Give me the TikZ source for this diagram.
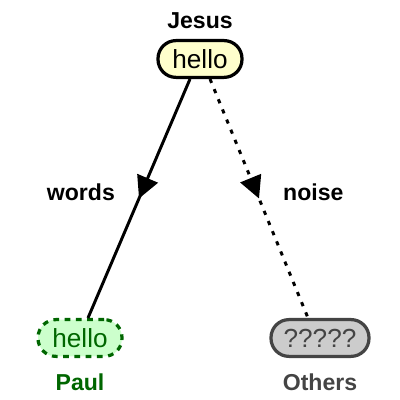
\documentclass[tikz,border=0pt]{standalone}
\usepackage{fontspec}
\setmainfont{Liberation Sans}
\usepackage{xcolor}
\usepackage{tikz}
\usetikzlibrary{arrows.meta}
\usetikzlibrary{positioning}
\usetikzlibrary{decorations.markings}

\definecolor{crema}{HTML}{FFFFCC}
\definecolor{verdeclaro}{HTML}{CCFFCC}
\definecolor{verde}{HTML}{006600}
\definecolor{grisclaro}{HTML}{CCCCCC}
\definecolor{gris}{HTML}{444444}

\begin{document}
\begin{tikzpicture}[
    every node/.style={font=\fontsize{16.4}{20}\selectfont\bfseries},
    nodo/.style={rectangle, rounded corners=0.45cm, minimum width=2.1cm, minimum height=0.92cm, inner sep=0pt,
        line width=2.3pt, font=\fontsize{18.6}{22}\selectfont},
    etiqueta/.style={label distance=4pt},
    arista/.style={line width=2.1pt, postaction={decorate},
        decoration={markings, mark=at position 0.5 with {\arrow[solid]{Triangle[length=0.55cm, width=0.55cm]}}}},
    puntos/.style={dash pattern=on 3pt off 4.8pt}
]
\useasboundingbox (0,0) rectangle (10,10);

% Nodos
\node[nodo, draw=black, fill=crema, label={[etiqueta]above:Jesus}] (jesus) at (5,8.525) {hello};
\node[nodo, draw=verde, fill=verdeclaro, text=verde, dash pattern=on 4pt off 4pt,
    label={[etiqueta, text=verde, label distance=8pt]below:Paul}] (paul) at (2,1.55) {hello};
\node[nodo, draw=gris, fill=grisclaro, text=gris, minimum width=2.45cm,
    label={[etiqueta, text=gris, label distance=8pt]below:Others}] (others) at (8,1.55) {?????};

% Aristas
\draw[arista] ([xshift=-0.25cm]jesus.south) -- ([xshift=0.2cm]paul.north)
    node[midway, left=0.45cm, yshift=0.15cm] (words) {words};
\draw[arista, puntos] ([xshift=0.25cm]jesus.south) -- ([xshift=-0.3cm]others.north)
    node[midway, right=0.45cm, yshift=0.15cm] (noise) {noise};

\end{tikzpicture}
\end{document}
